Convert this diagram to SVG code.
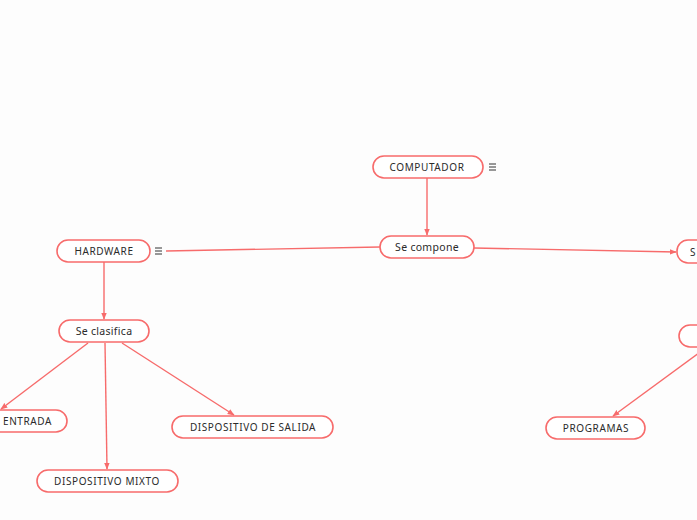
<svg xmlns="http://www.w3.org/2000/svg" width="697" height="520" viewBox="0 0 697 520">
<defs>
<style>
.n{fill:#ffffff;stroke:#f76b6b;stroke-width:1.6}
.t{font-family:"Noto Sans","Open Sans",sans-serif;font-size:10px;fill:#2b2b2b;text-anchor:middle;dominant-baseline:central}
.u{letter-spacing:0.6px}
.l{font-size:10.5px;letter-spacing:0.3px}
.c{stroke:#f76b6b;stroke-width:1.4;fill:none}
.ic{stroke:#333;stroke-width:1}
</style>
<marker id="a" viewBox="0 0 10 10" refX="9" refY="5" markerWidth="7" markerHeight="7" orient="auto" markerUnits="userSpaceOnUse">
<path d="M0,1 L10,5 L0,9 z" fill="#f76b6b"/>
</marker>
</defs>
<rect width="697" height="520" fill="#fdfdfd"/>
<g id="connectors">
<path class="c" d="M427,178 L427,235" marker-end="url(#a)"/>
<path class="c" d="M380,247 L166,251"/>
<path class="c" d="M474,248 L676,252" marker-end="url(#a)"/>
<path class="c" d="M104,262 L104,319" marker-end="url(#a)"/>
<path class="c" d="M88,343 L1,409" marker-end="url(#a)"/>
<path class="c" d="M105,343 L107,469" marker-end="url(#a)"/>
<path class="c" d="M122,343 L234,415" marker-end="url(#a)"/>
<path class="c" d="M699,353 L613,416" marker-end="url(#a)"/>
</g>
<g id="computador">
<rect class="n" x="373" y="156" width="110" height="22" rx="11"/>
<text class="t u" x="427" y="167">COMPUTADOR</text>
<path class="ic" d="M489,164 H496 M489,167 H496 M489,170 H496"/>
</g>
<g id="se-compone">
<rect class="n" x="380" y="236" width="94" height="22" rx="11"/>
<text class="t l" x="427" y="247">Se compone</text>
</g>
<g id="hardware">
<rect class="n" x="57" y="240" width="93" height="22" rx="11"/>
<text class="t u" x="104" y="251">HARDWARE</text>
<path class="ic" d="M155,248 H162 M155,251 H162 M155,254 H162"/>
</g>
<g id="software">
<rect class="n" x="677" y="240" width="60" height="23" rx="11"/>
<text class="t" x="690" y="252" style="text-anchor:start">S</text>
</g>
<g id="se-clasifica">
<rect class="n" x="59" y="320" width="90" height="22" rx="11"/>
<text class="t l" x="104" y="331">Se clasifica</text>
</g>
<g id="right-sub">
<rect class="n" x="679" y="325" width="60" height="22" rx="11"/>
</g>
<g id="entrada">
<rect class="n" x="-60" y="410" width="127" height="22" rx="11"/>
<text class="t u" x="3" y="421" style="text-anchor:start">ENTRADA</text>
</g>
<g id="salida">
<rect class="n" x="172" y="416" width="161" height="22" rx="11"/>
<text class="t u" x="253" y="427">DISPOSITIVO DE SALIDA</text>
</g>
<g id="mixto">
<rect class="n" x="37" y="470" width="141" height="22" rx="11"/>
<text class="t u" x="107" y="481">DISPOSITIVO MIXTO</text>
</g>
<g id="programas">
<rect class="n" x="546" y="417" width="99" height="22" rx="11"/>
<text class="t u" x="596" y="428">PROGRAMAS</text>
</g>
</svg>
